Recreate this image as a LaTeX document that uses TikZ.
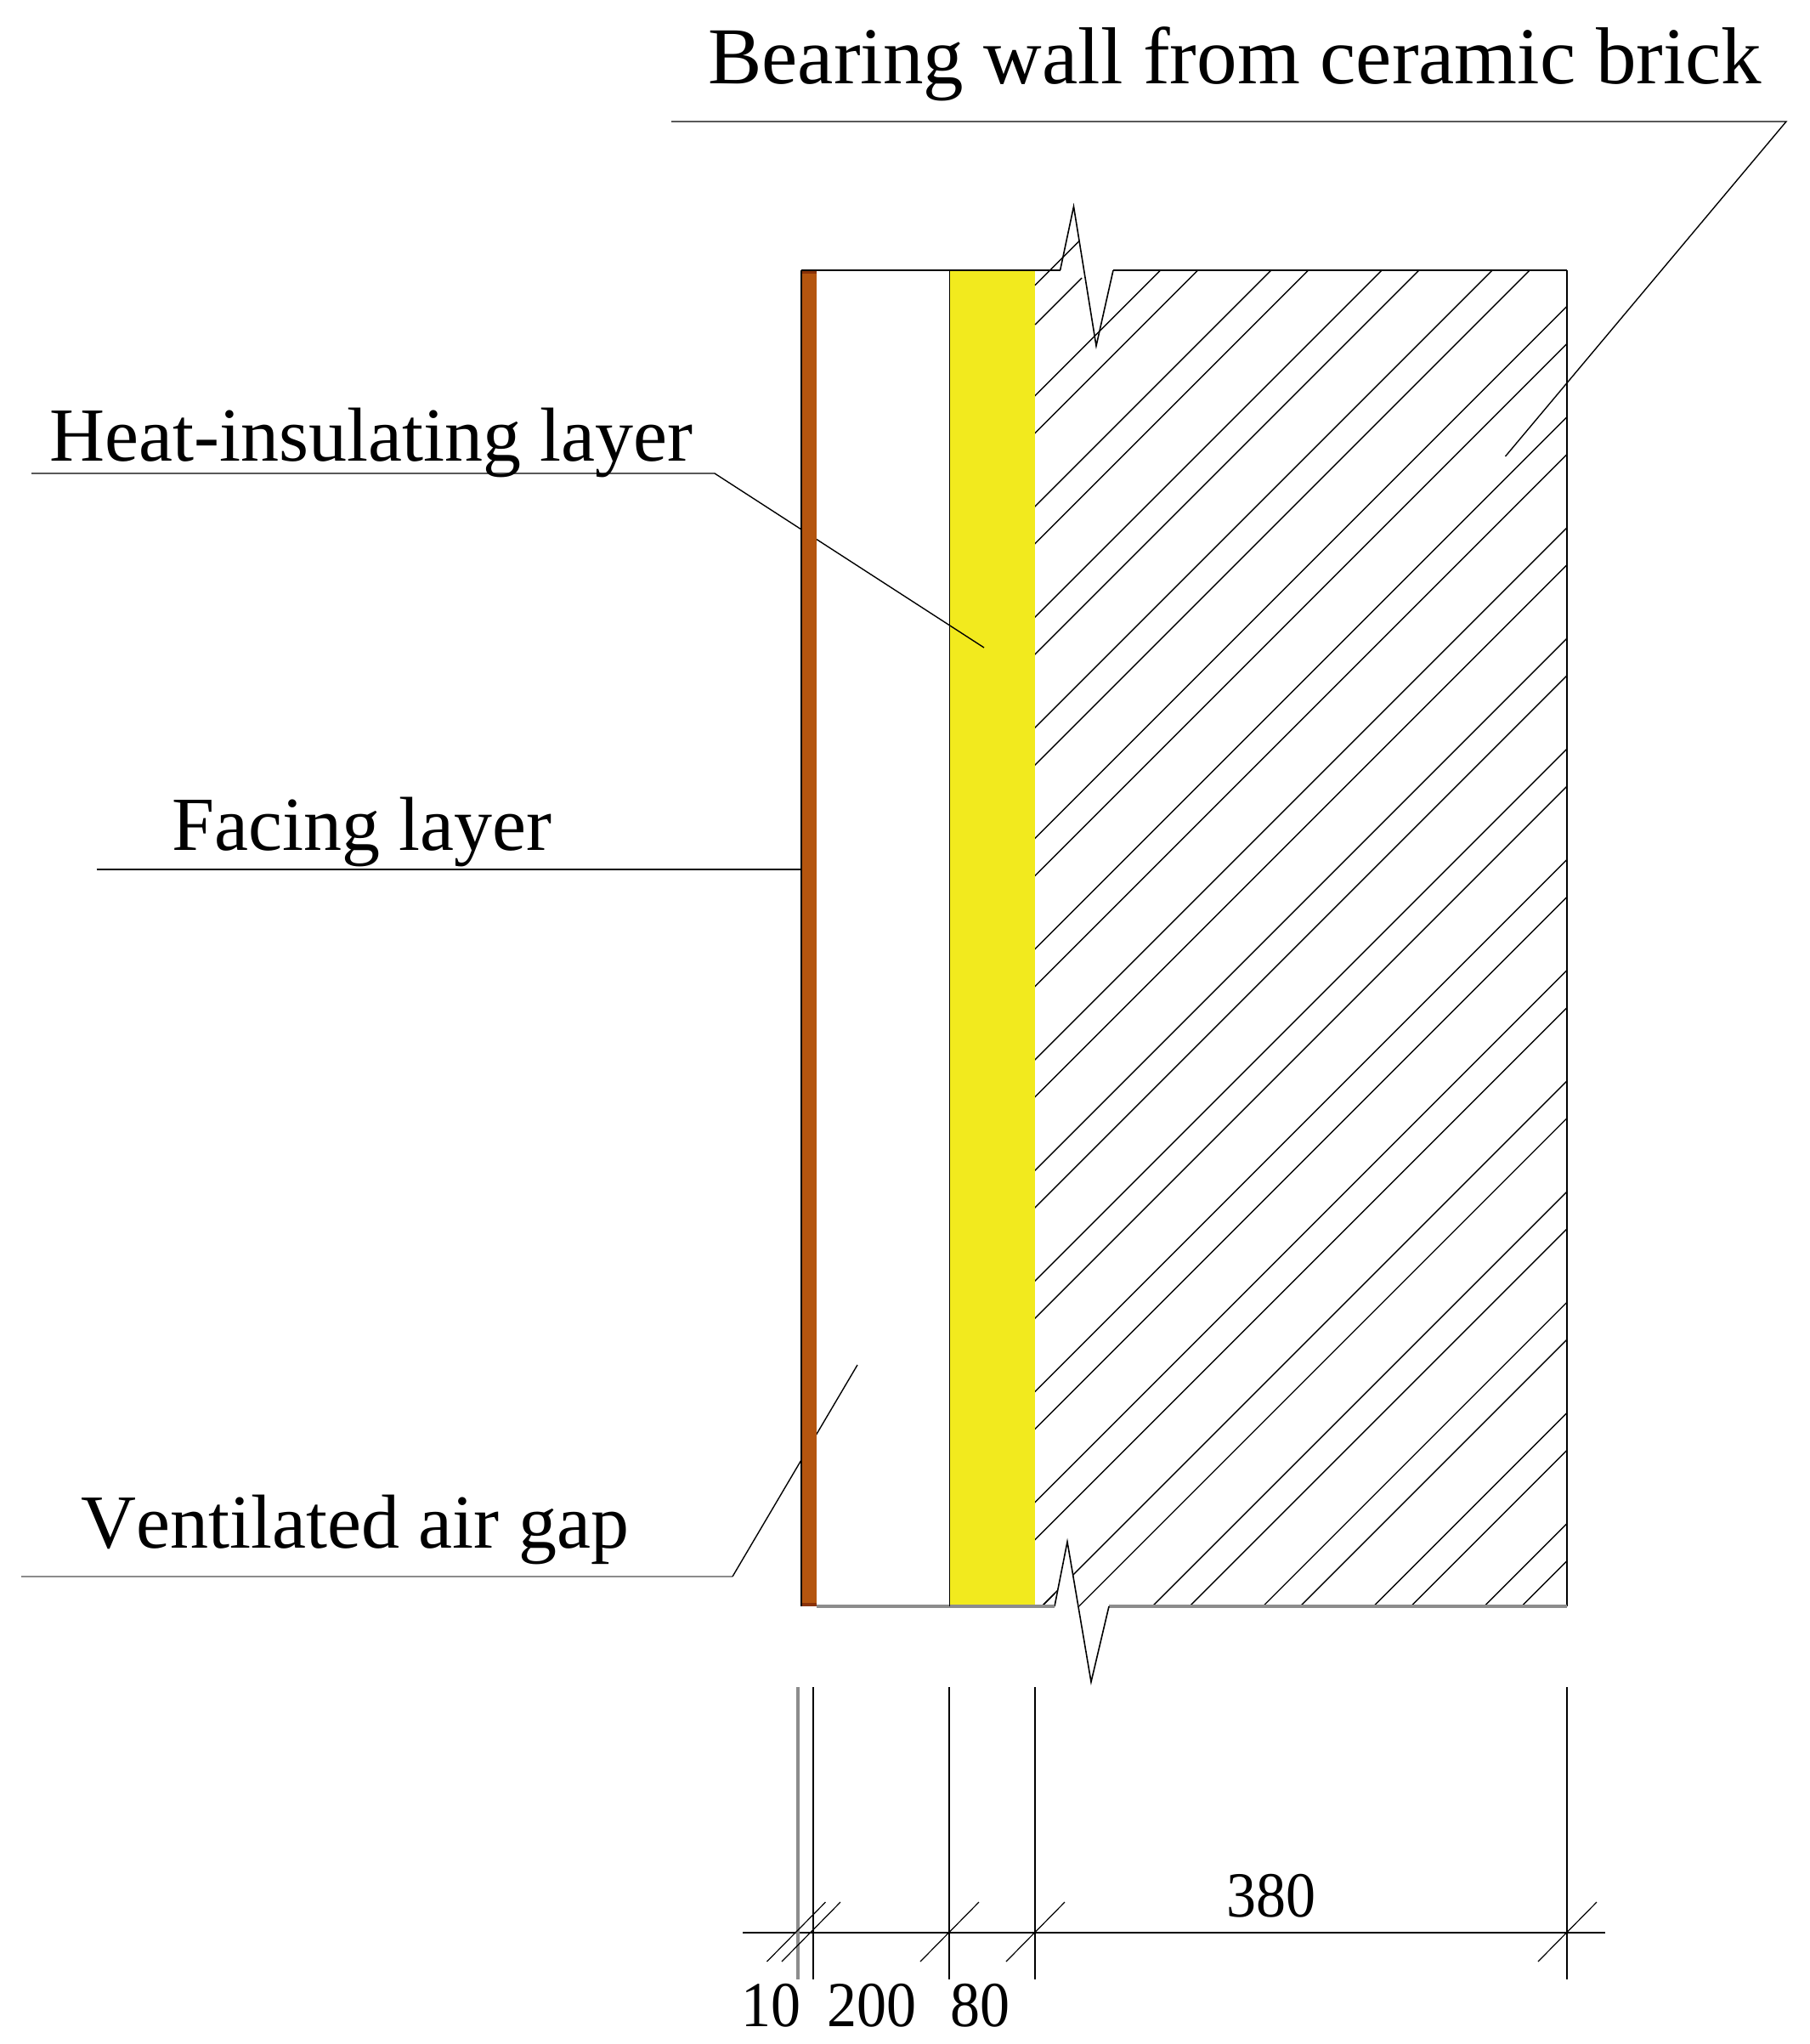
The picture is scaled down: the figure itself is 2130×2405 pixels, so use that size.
\documentclass[tikz,border=0pt]{standalone}
\usepackage{graphicx}
\usepackage{fontspec}
\setmainfont[Kerning=Off]{Liberation Serif}
\definecolor{brickc}{HTML}{B4550F}
\definecolor{brickd}{HTML}{8A3208}
\definecolor{insulc}{HTML}{F2EA1E}
\definecolor{greyl}{HTML}{8C8C8C}
\tikzset{
  hatchline/.style={black,line width=0.7pt},
  thinline/.style={black,line width=0.8pt},
  edgeline/.style={black,line width=1.3pt},
  baseedge/.style={greyl,line width=2pt},
  leader/.style={black,line width=0.7pt},
  greyleader/.style={greyl,line width=1.3pt},
  greyext/.style={greyl,line width=1.9pt},
  dimline/.style={black,line width=1pt},
  dimtick/.style={black,line width=0.6pt},
  bigtext/.style={anchor=base west,inner sep=0pt,font=\fontsize{45pt}{50pt}\selectfont},
  titletext/.style={anchor=base west,inner sep=0pt,font=\fontsize{47.5pt}{52pt}\selectfont},
  numtext/.style={anchor=base,inner sep=0pt,font=\fontsize{35pt}{40pt}\selectfont}
}
\begin{document}
\begin{tikzpicture}[x=0.5pt,y=-0.5pt]
\useasboundingbox (0,0) rectangle (2130,2405);
\fill[white] (0,0) rectangle (2130,2405);
% insulation
\fill[insulc] (1118,318) rectangle (1217.5,1890);
% hatching
\begin{scope}
\clip (1218,318) rectangle (1844,1890);
\foreach \k in {0,...,15}{
  \pgfmathsetmacro{\ca}{1683.6+130.2*\k}
  \pgfmathsetmacro{\cb}{1727.5+130.2*\k}
  \draw[hatchline] ({\ca-300},300) -- ({\ca-1900},1900);
  \draw[hatchline] ({\cb-300},300) -- ({\cb-1900},1900);
}
\end{scope}
\coordinate (ha1) at (1218,335.7);
\coordinate (ha2) at (1270,283.7);
\coordinate (hb1) at (1218,382);
\coordinate (hb2) at (1273,327);
\draw[hatchline] (ha1) -- (ha2);
\draw[hatchline] (hb1) -- (hb2);
% bottom break clears the hatching
\fill[white] (1241,1890) -- (1256,1814) -- (1270,1891) -- cycle;
\coordinate (hc1) at (1226,1890);
\coordinate (hc2) at (1241,1875);
\draw[hatchline] (hc1) -- (hc2);
% labels and leaders behind the facing layer
\node[bigtext] (heat) at (58,542) {Heat-insulating layer};
\node[bigtext] (facing) at (202,1000) {Facing layer};
\node[bigtext] (vent) at (95,1821) {Ventilated air gap};
\node[titletext] (bear) at (833,98) {Bearing wall from ceramic brick};
\coordinate (b1) at (790,143);
\coordinate (b2) at (2102,143);
\coordinate (b3) at (1771.5,537);
\draw[leader] (b1) -- (b2) -- (b3);
\coordinate (h1) at (37,557);
\coordinate (h2) at (841,557);
\coordinate (h3) at (1158,762);
\draw[leader] (h1) -- (h2) -- (h3);
\coordinate (f1) at (113.5,1023);
\coordinate (f2) at (942,1023);
\draw[leader] (f1) -- (f2);
\coordinate (v1) at (24.5,1855);
\coordinate (v2) at (862,1855);
\coordinate (v3) at (1009,1606);
\draw[greyleader] (v1) -- (v2);
\draw[leader] (v2) -- (v3);
% facing layer
\fill[brickc] (943,318) rectangle (961,1890);
\fill[brickd] (943,318) rectangle (961,322);
\fill[brickd] (943,1886) rectangle (961,1890);
\draw[edgeline] (943,318) -- (943,1890);
% wall outlines
\coordinate (tl) at (943,318);
\coordinate (tm) at (1247.6,318);
\coordinate (za) at (1263.5,243);
\coordinate (zb) at (1290,407);
\coordinate (zc) at (1310,318);
\coordinate (tr) at (1844,318);
\coordinate (br) at (1844,1890);
\coordinate (zd) at (1305,1890);
\coordinate (ze) at (1284,1979);
\coordinate (zf) at (1256,1814);
\coordinate (zg) at (1241,1890);
\coordinate (bl) at (961,1890);
\draw[edgeline] (tl) -- (tm);
\draw[edgeline] (zc) -- (tr);
\draw[thinline] (tm) -- (za) -- (zb) -- (zc);
\draw[thinline] (tr) -- (br);
\draw[baseedge] (br) -- (zd);
\draw[thinline] (zd) -- (ze) -- (zf) -- (zg);
\draw[baseedge] (zg) -- (bl);
\draw[thinline] (1117.5,318) -- (1117.5,1890);
% dimension chain
\coordinate (d1) at (874,2274);
\coordinate (d2) at (1889,2274);
\draw[dimline] (d1) -- (d2);
\foreach \nm/\x/\st in {a/939/greyext,b/957/thinline,c/1117/thinline,d/1218/thinline,e/1844/thinline}{
  \coordinate (e\nm t) at (\x,1985);
  \coordinate (e\nm b) at (\x,2329);
  \draw[\st] (e\nm t) -- (e\nm b);
}
\foreach \x in {936.5,954,1117,1218,1844}{
  \coordinate (tk1) at ({\x-34},2308);
  \coordinate (tk2) at ({\x+35},2238);
  \draw[dimtick] (tk1) -- (tk2);
}
\node[numtext] (n10) at (907,2384) {\scalebox{1}[1.08]{10}};
\node[numtext] (n200) at (1026,2384) {\scalebox{1}[1.08]{200}};
\node[numtext] (n80) at (1153,2384) {\scalebox{1}[1.08]{80}};
\node[numtext] (n380) at (1496,2255) {\scalebox{1}[1.08]{380}};
\end{tikzpicture}
\end{document}
